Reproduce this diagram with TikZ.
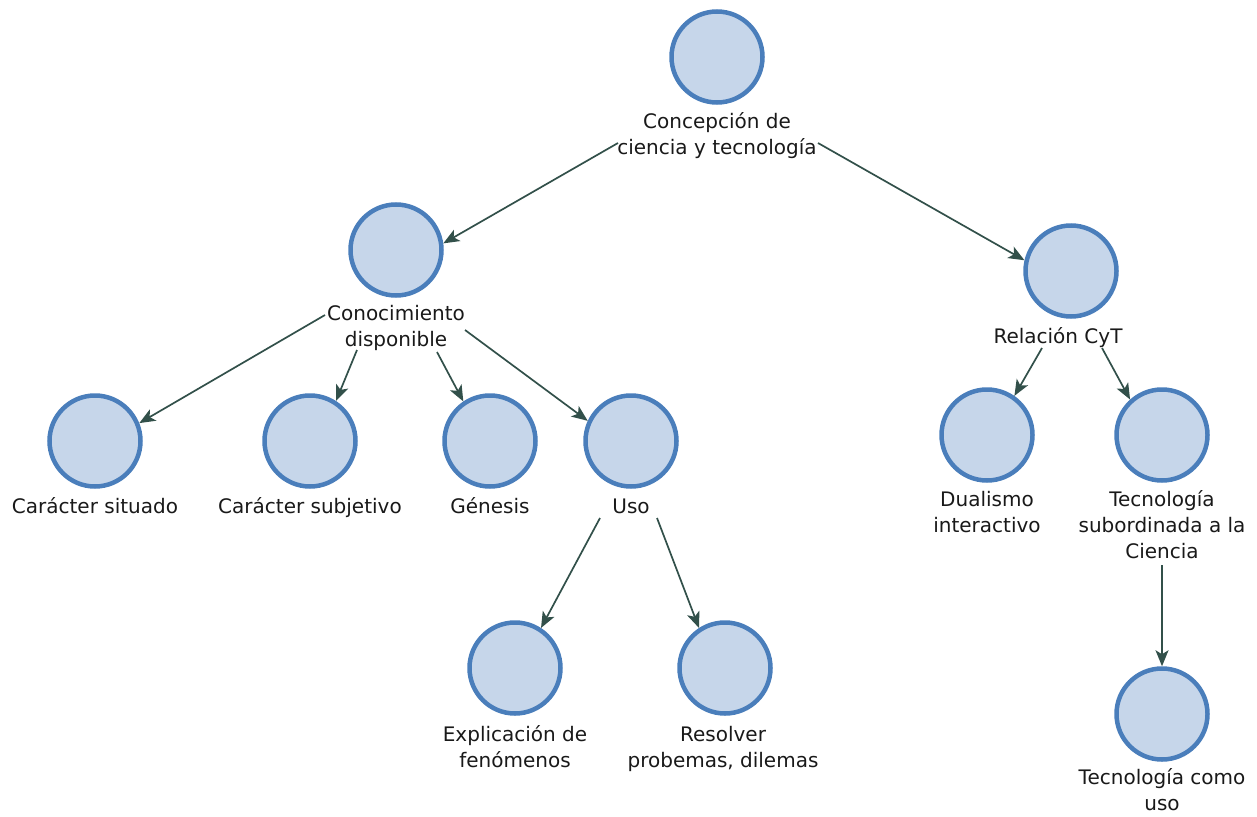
\documentclass[tikz,border=0pt]{standalone}
\usepackage{fontspec}
\setmainfont{DejaVu Sans}
\usetikzlibrary{arrows.meta,calc}
\definecolor{cfill}{RGB}{198,214,234}
\definecolor{cdraw}{RGB}{74,126,187}
\definecolor{carr}{RGB}{50,80,74}
\definecolor{ctext}{RGB}{25,25,25}
\tikzset{
  concept/.style={circle,draw=cdraw,fill=cfill,line width=4.5pt,minimum size=91pt,inner sep=0pt},
  lab/.style={anchor=base,align=center,inner sep=0pt,text=ctext,font=\fontsize{20}{26}\selectfont},
  arr/.style={draw=carr,line width=1.7pt,-{Stealth[length=16pt,width=13pt,inset=4pt]}}
}
\begin{document}
\begin{tikzpicture}[x=1pt,y=-1pt]
\useasboundingbox (0,0) rectangle (1257,816);
% circles
\node[concept] (c0) at (717,57) {};
\node[concept] (c1) at (396,250) {};
\node[concept] (c2) at (1071,271) {};
\node[concept] (c3) at (95,441) {};
\node[concept] (c4) at (310,441) {};
\node[concept] (c5) at (490,441) {};
\node[concept] (c6) at (631,441) {};
\node[concept] (c7) at (515,668) {};
\node[concept] (c8) at (725,668) {};
\node[concept] (c9) at (987,435) {};
\node[concept] (c10) at (1162,435) {};
\node[concept] (c11) at (1162,714) {};
% labels (anchor = baseline of last line)
\node[lab] (l0) at (717,154) {Concepción de\\ciencia y tecnología};
\node[lab] (l1) at (396,346) {Conocimiento\\disponible};
\node[lab] (l2) at (1058,343) {Relación CyT};
\node[lab] (l3) at (95,513) {Carácter situado};
\node[lab] (l4) at (310,513) {Carácter subjetivo};
\node[lab] (l5) at (490,513) {Génesis};
\node[lab] (l6) at (631,513) {Uso};
\node[lab] (l7) at (515,767) {Explicación de\\fenómenos};
\node[lab] (l8) at (723,767) {Resolver\\probemas, dilemas};
\node[lab] (l9) at (987,532) {Dualismo\\interactivo};
\node[lab] (l10) at (1162,558) {Tecnología\\subordinada a la\\Ciencia};
\node[lab] (l11) at (1162,810) {Tecnología como\\uso};
% connectors
\draw[arr] ($(l0.base)+(-99,-11)$) -- (c1.8);
\draw[arr] ($(l0.base)+(101,-11)$) -- (c2.167);
\draw[arr] ($(l1.base)+(-71,-31)$) -- (c3.22);
\draw[arr] ($(l1.base)+(-39,4)$) -- (c4.57);
\draw[arr] ($(l1.base)+(41,6)$) -- (c5.124);
\draw[arr] ($(l1.base)+(69,-16)$) -- (c6.155);
\draw[arr] ($(l6.base)+(-31,5)$) -- (c7.57);
\draw[arr] ($(l6.base)+(26,5)$) -- (c8.123);
\draw[arr] ($(l2.base)+(-16,5)$) -- (c9.55);
\draw[arr] ($(l2.base)+(44,5)$) -- (c10.132);
\draw[arr] ($(l10.base)+(0,7)$) -- (c11.90);
\end{tikzpicture}
\end{document}
